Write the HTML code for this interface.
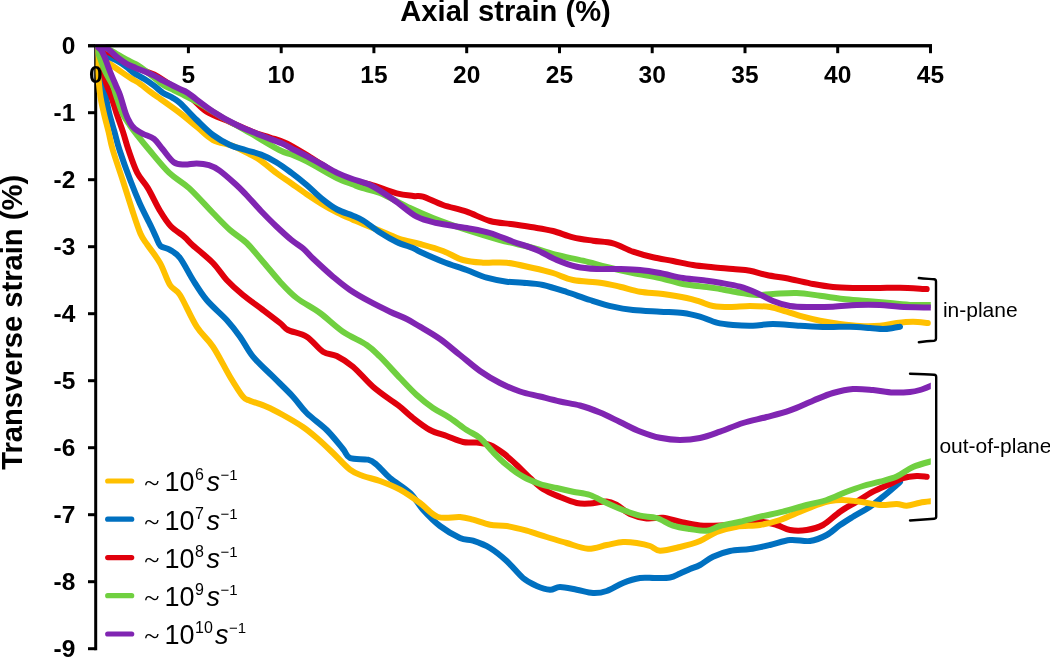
<!DOCTYPE html>
<html><head><meta charset="utf-8"><title>Strain chart</title>
<style>
html,body{margin:0;padding:0;background:#fff;}
body{width:1050px;height:657px;overflow:hidden;}
svg{display:block;}
text{font-family:"Liberation Sans",sans-serif;fill:#000;}
.b{font-weight:bold;}
.tk{font-weight:bold;font-size:24.5px;}
.lg{font-size:27px;}
.sup{font-size:16px;}
.crv{fill:none;stroke-width:6;stroke-linecap:round;stroke-linejoin:round;}
</style></head><body>
<svg width="1050" height="657" viewBox="0 0 1050 657">
<rect width="1050" height="657" fill="#fff"/>
<defs><clipPath id="cp"><rect x="95.5" y="44.2" width="835.3" height="617"/></clipPath></defs>

<text class="b" x="400.3" y="20.9" font-size="29.15">Axial strain (%)</text>
<text class="b" font-size="29.15" text-anchor="middle" transform="translate(21.9,322.3) rotate(-90)">Transverse strain (%)</text>
<g stroke="#000" stroke-width="3" fill="none" stroke-linecap="butt">
<path d="M88 45.7H932"/>
<path d="M95.7 44.2V650.2"/>
<path d="M188.4 45.7v7.5"/>
<path d="M281.2 45.7v7.5"/>
<path d="M373.9 45.7v7.5"/>
<path d="M466.7 45.7v7.5"/>
<path d="M559.5 45.7v7.5"/>
<path d="M652.2 45.7v7.5"/>
<path d="M745.0 45.7v7.5"/>
<path d="M837.7 45.7v7.5"/>
<path d="M930.5 45.7v7.5"/>
<path d="M88 112.7H95.7"/>
<path d="M88 179.7H95.7"/>
<path d="M88 246.7H95.7"/>
<path d="M88 313.7H95.7"/>
<path d="M88 380.7H95.7"/>
<path d="M88 447.7H95.7"/>
<path d="M88 514.7H95.7"/>
<path d="M88 581.7H95.7"/>
<path d="M88 648.7H95.7"/>
</g>
<g class="crv" clip-path="url(#cp)">
<path stroke="#FFC000" d="M95.7 45.7C96.6 47.1 99.3 51.5 101.0 54.0C102.7 56.5 104.0 59.0 106.0 61.0C108.0 63.0 110.2 64.1 112.9 66.0C115.6 67.9 119.0 70.3 122.0 72.4C125.0 74.5 128.0 76.5 131.1 78.4C134.2 80.3 137.2 81.8 140.3 83.9C143.4 86.0 146.4 88.9 149.4 91.2C152.4 93.5 153.5 94.0 158.6 97.6C163.7 101.2 173.7 108.2 180.0 113.0C186.3 117.8 191.2 122.2 196.7 126.7C202.2 131.2 206.9 136.8 213.0 140.0C219.1 143.2 226.8 143.6 233.0 146.0C239.2 148.4 245.6 152.2 250.3 154.6C255.0 157.0 256.7 157.6 261.0 160.7C265.3 163.8 271.1 169.1 276.2 172.9C281.3 176.7 286.4 179.9 291.5 183.5C296.6 187.1 301.6 190.8 306.7 194.2C311.8 197.6 316.9 201.0 322.0 204.1C327.1 207.2 332.1 209.9 337.2 212.5C342.3 215.1 348.1 217.5 352.4 219.4C356.7 221.3 357.3 221.7 363.0 224.0C368.7 226.3 380.5 231.0 386.7 233.5C392.9 236.0 394.4 237.2 400.0 239.0C405.6 240.8 412.8 242.0 420.0 244.0C427.2 246.0 435.8 248.3 443.0 251.0C450.2 253.7 456.3 258.1 463.0 260.0C469.7 261.9 475.7 262.2 483.0 262.7C490.3 263.1 498.4 261.8 506.7 262.7C515.0 263.6 525.3 266.3 533.0 268.0C540.7 269.7 546.3 271.0 553.0 273.0C559.7 275.0 565.2 278.4 573.0 280.0C580.8 281.6 592.2 281.6 600.0 282.7C607.8 283.8 613.3 285.2 620.0 286.7C626.7 288.2 632.8 290.5 640.0 291.7C647.2 292.9 655.2 292.9 663.0 294.0C670.8 295.1 680.5 296.7 686.7 298.0C692.9 299.3 695.6 300.4 700.0 301.7C704.4 303.0 708.0 305.1 713.0 306.0C718.0 306.9 723.8 307.0 730.0 307.0C736.2 307.0 743.3 306.0 750.0 306.0C756.7 306.0 763.9 306.1 770.0 307.0C776.1 307.9 781.2 310.1 786.7 311.7C792.2 313.3 797.5 315.2 803.0 316.7C808.5 318.2 813.8 319.5 820.0 320.7C826.2 321.9 833.3 323.1 840.0 324.0C846.7 324.9 853.3 325.7 860.0 326.0C866.7 326.3 873.9 326.2 880.0 325.7C886.1 325.2 891.2 323.7 896.7 323.0C902.2 322.3 907.8 321.7 913.0 321.7C918.2 321.7 925.5 322.8 928.0 323.0"/>
<path stroke="#0070C0" d="M95.7 45.7C96.2 48.1 98.0 55.1 99.0 60.0C100.0 64.9 100.9 69.2 102.0 75.0C103.1 80.8 104.3 88.6 105.5 95.0C106.7 101.4 107.7 107.2 109.2 113.3C110.7 119.4 112.7 125.5 114.4 131.6C116.1 137.7 116.8 141.8 119.5 150.0C122.2 158.2 127.0 171.6 130.4 180.5C133.8 189.4 136.4 195.8 139.8 203.4C143.2 211.0 148.3 220.6 151.0 226.2C153.7 231.8 154.4 233.7 156.0 237.0C157.6 240.3 158.2 243.9 160.5 246.0C162.8 248.1 166.3 247.6 169.6 249.6C172.8 251.6 176.1 252.9 180.0 258.0C183.9 263.1 188.6 273.0 193.0 280.0C197.4 287.0 201.1 293.3 206.7 300.0C212.3 306.7 221.1 313.9 226.7 320.0C232.2 326.1 235.6 330.6 240.0 336.7C244.4 342.8 247.5 350.0 253.0 356.7C258.5 363.4 266.3 370.0 273.0 376.7C279.7 383.4 287.4 390.6 293.0 396.7C298.6 402.8 301.1 407.4 306.7 413.0C312.3 418.6 320.6 424.0 326.7 430.0C332.8 436.0 339.1 444.3 343.0 449.0C346.9 453.7 345.8 456.2 350.0 458.0C354.2 459.8 363.6 458.6 368.0 459.7C372.4 460.8 373.0 461.6 376.7 464.7C380.4 467.8 384.4 473.3 390.0 478.0C395.6 482.7 404.5 487.7 410.0 493.0C415.5 498.3 418.0 504.2 423.0 509.7C428.0 515.2 433.8 521.3 440.0 526.0C446.2 530.7 454.5 535.5 460.0 538.0C465.5 540.5 468.0 539.0 473.0 540.7C478.0 542.4 484.4 544.6 490.0 548.0C495.6 551.4 501.2 556.0 506.7 561.0C512.2 566.0 518.0 573.8 523.0 578.0C528.0 582.2 532.2 584.0 536.7 586.0C541.2 588.0 546.1 589.5 550.0 589.7C553.9 589.9 555.5 587.0 560.0 587.0C564.5 587.0 571.2 588.7 576.7 589.7C582.2 590.7 588.0 592.8 593.0 593.0C598.0 593.2 601.7 592.7 606.7 591.0C611.7 589.3 617.5 585.2 623.0 583.0C628.5 580.8 634.7 578.8 640.0 578.0C645.3 577.2 650.0 578.1 655.0 578.0C660.0 577.9 665.8 578.2 670.0 577.5C674.2 576.8 676.7 574.9 680.0 573.5C683.3 572.1 686.7 570.4 690.0 569.0C693.3 567.6 696.2 567.0 700.0 565.0C703.8 563.0 708.0 559.0 713.0 556.7C718.0 554.4 723.8 552.3 730.0 551.0C736.2 549.7 743.3 550.0 750.0 549.0C756.7 548.0 763.3 546.5 770.0 545.0C776.7 543.5 783.3 540.7 790.0 540.0C796.7 539.3 803.9 541.8 810.0 541.0C816.1 540.2 821.7 537.7 826.7 535.0C831.7 532.3 835.6 528.0 840.0 525.0C844.4 522.0 848.0 519.8 853.0 516.7C858.0 513.7 865.0 510.0 870.0 506.7C875.0 503.4 878.5 500.3 883.0 496.7C887.5 493.1 893.9 487.4 896.7 485.0C899.5 482.6 899.5 482.5 900.0 482.0"/>
<path stroke="#0070C0" d="M95.7 45.7C96.8 46.8 99.9 50.2 102.0 52.0C104.1 53.8 105.7 55.0 108.3 56.5C110.9 58.0 114.5 59.3 117.4 61.0C120.4 62.7 123.2 64.5 126.0 66.5C128.8 68.5 130.8 70.8 133.9 72.9C137.0 75.0 141.5 77.2 144.8 79.3C148.2 81.4 150.9 83.4 154.0 85.7C157.1 88.0 160.0 91.0 163.1 93.0C166.2 95.0 169.5 95.9 172.3 97.6C175.1 99.3 175.9 99.3 180.0 103.0C184.1 106.7 191.2 114.7 196.7 120.0C202.2 125.3 207.4 130.8 213.0 135.0C218.6 139.2 224.6 142.5 230.0 145.0C235.4 147.5 240.5 148.4 245.7 150.0C250.9 151.6 255.9 152.6 261.0 154.6C266.1 156.6 271.1 159.1 276.2 162.2C281.3 165.2 286.4 169.1 291.5 172.9C296.6 176.7 301.6 180.7 306.7 185.0C311.8 189.3 316.9 194.7 322.0 198.8C327.1 202.9 332.1 206.7 337.2 209.5C342.3 212.3 348.1 213.7 352.4 215.5C356.7 217.3 358.4 217.7 363.0 220.5C367.6 223.3 374.4 228.9 380.0 232.5C385.6 236.1 391.2 239.4 396.7 242.0C402.2 244.6 409.1 246.4 413.0 248.0C416.9 249.6 415.0 249.4 420.0 251.7C425.0 254.0 435.2 258.6 443.0 261.7C450.8 264.8 459.4 267.3 466.7 270.0C474.0 272.7 480.0 275.8 486.7 277.7C493.4 279.6 500.6 280.9 506.7 281.7C512.8 282.5 517.0 282.1 523.0 282.7C529.0 283.2 535.7 283.4 543.0 285.0C550.3 286.6 558.9 289.5 566.7 292.0C574.5 294.5 582.3 297.6 590.0 300.0C597.7 302.4 605.8 305.0 613.0 306.7C620.2 308.4 625.2 309.2 633.0 310.0C640.8 310.8 651.7 311.2 660.0 311.7C668.3 312.2 676.3 312.2 683.0 313.0C689.7 313.8 694.4 315.1 700.0 316.7C705.6 318.3 711.2 321.3 716.7 322.7C722.2 324.1 727.0 324.5 733.0 325.0C739.0 325.5 746.3 325.9 753.0 325.7C759.7 325.5 765.2 324.0 773.0 324.0C780.8 324.0 791.0 325.2 800.0 325.7C809.0 326.2 818.4 326.8 826.7 327.0C835.0 327.2 842.8 326.5 850.0 326.7C857.2 326.9 864.5 327.6 870.0 328.0C875.5 328.4 879.2 329.0 883.0 329.0C886.8 329.0 890.2 328.4 893.0 328.0C895.8 327.6 898.8 326.9 900.0 326.7"/>
<path stroke="#E0000C" d="M95.7 45.7C96.7 49.1 99.6 59.3 101.5 66.0C103.4 72.7 105.4 80.9 106.9 85.7C108.5 90.5 109.2 90.4 110.8 95.0C112.4 99.6 114.5 107.2 116.5 113.3C118.5 119.4 120.9 125.5 122.9 131.6C124.9 137.7 126.1 143.1 128.5 150.0C130.9 156.9 134.1 166.6 137.3 172.9C140.5 179.2 144.1 181.8 147.9 188.1C151.7 194.4 156.3 204.7 160.1 211.0C163.9 217.3 166.7 221.9 170.8 226.2C174.9 230.5 180.8 233.7 184.5 236.9C188.2 240.1 188.2 241.2 193.0 245.5C197.8 249.8 207.4 257.2 213.0 263.0C218.6 268.8 221.7 274.7 226.7 280.0C231.7 285.3 236.9 290.0 243.0 295.0C249.1 300.0 256.8 305.3 263.0 310.0C269.2 314.7 275.8 319.7 280.0 323.0C284.2 326.3 283.6 327.7 288.0 330.0C292.4 332.3 300.9 333.1 306.7 336.7C312.5 340.3 318.0 348.5 323.0 351.7C328.0 354.9 331.7 353.5 336.7 356.0C341.7 358.5 346.9 361.6 353.0 366.7C359.1 371.8 366.3 380.9 373.0 386.7C379.7 392.5 388.5 398.4 393.0 401.7C397.5 405.0 396.7 404.0 400.0 406.7C403.3 409.4 408.0 414.1 413.0 418.0C418.0 421.9 424.4 427.0 430.0 430.0C435.6 433.0 441.2 434.0 446.7 436.0C452.2 438.0 458.0 440.9 463.0 442.0C468.0 443.1 472.2 442.0 476.7 442.5C481.2 443.0 485.6 443.2 490.0 445.0C494.4 446.8 498.6 449.7 503.0 453.0C507.4 456.3 512.2 460.8 516.7 465.0C521.2 469.2 525.6 474.0 530.0 478.0C534.4 482.0 538.0 485.8 543.0 489.0C548.0 492.2 554.4 494.7 560.0 497.0C565.6 499.3 571.7 501.9 576.7 503.0C581.7 504.1 585.0 503.8 590.0 503.5C595.0 503.2 602.2 501.2 606.7 501.5C611.2 501.8 612.8 502.9 616.7 505.0C620.6 507.1 625.0 511.8 630.0 514.0C635.0 516.2 641.2 517.9 646.7 518.5C652.2 519.1 657.5 517.2 663.0 517.7C668.5 518.2 673.8 520.4 680.0 521.7C686.2 523.0 693.3 524.9 700.0 525.5C706.7 526.1 713.3 525.8 720.0 525.5C726.7 525.2 733.3 524.6 740.0 524.0C746.7 523.4 753.9 521.5 760.0 521.7C766.1 521.9 771.7 523.6 776.7 525.0C781.7 526.4 785.0 529.2 790.0 530.0C795.0 530.8 801.2 530.8 806.7 530.0C812.2 529.2 817.5 528.0 823.0 525.0C828.5 522.0 834.4 515.6 840.0 511.7C845.6 507.8 851.2 505.0 856.7 501.7C862.2 498.4 867.5 494.6 873.0 491.7C878.5 488.8 885.0 486.3 890.0 484.0C895.0 481.7 898.5 479.3 903.0 478.0C907.5 476.7 912.8 476.2 916.7 476.0C920.7 475.8 925.0 476.6 926.7 476.7"/>
<path stroke="#E0000C" d="M95.7 45.7C98.1 46.9 104.3 49.8 110.0 53.0C115.7 56.2 122.7 61.4 130.0 65.0C137.3 68.6 147.3 71.2 154.0 74.5C160.7 77.8 164.0 80.8 170.0 84.5C176.0 88.2 183.9 92.5 190.0 97.0C196.1 101.5 200.0 107.5 206.7 111.7C213.4 115.9 222.3 118.6 230.0 122.0C237.7 125.4 246.3 129.4 253.0 132.0C259.7 134.6 264.4 135.6 270.0 137.5C275.6 139.4 280.0 140.2 286.7 143.5C293.4 146.8 301.9 152.2 310.0 157.0C318.1 161.8 328.0 168.6 335.0 172.5C342.0 176.4 346.2 178.5 352.0 180.5C357.8 182.5 362.6 182.4 370.0 184.5C377.4 186.6 389.5 191.4 396.7 193.3C403.9 195.2 408.9 195.4 413.3 196.0C417.7 196.6 418.1 195.2 423.0 196.7C427.9 198.2 435.7 202.5 443.0 205.0C450.3 207.5 458.9 209.0 466.7 211.7C474.5 214.4 482.3 218.9 490.0 221.0C497.7 223.1 505.8 223.2 513.0 224.3C520.2 225.4 526.3 226.2 533.0 227.3C539.7 228.4 546.3 229.3 553.0 231.0C559.7 232.7 566.3 235.7 573.0 237.3C579.7 238.9 586.3 239.7 593.0 240.7C599.7 241.7 606.3 241.5 613.0 243.3C619.7 245.1 626.3 249.4 633.0 251.7C639.7 254.0 646.3 255.8 653.0 257.3C659.7 258.9 666.3 259.7 673.0 261.0C679.7 262.3 686.3 263.9 693.0 265.0C699.7 266.1 706.3 266.6 713.0 267.3C719.7 268.0 726.8 268.4 733.0 269.0C739.2 269.6 744.4 269.7 750.0 270.7C755.6 271.7 760.0 273.6 766.7 275.0C773.4 276.4 782.3 277.5 790.0 279.0C797.7 280.5 805.8 282.7 813.0 284.0C820.2 285.3 825.7 286.3 833.0 287.0C840.3 287.7 848.9 287.8 856.7 288.0C864.5 288.2 872.8 288.1 880.0 288.0C887.2 287.9 892.2 287.5 900.0 287.7C907.8 287.9 922.2 288.8 926.7 289.0"/>
<path stroke="#FFC000" d="M95.7 45.7C96.0 49.8 97.0 61.8 97.8 70.0C98.5 78.2 99.2 87.8 100.2 95.0C101.2 102.2 102.5 107.2 103.9 113.3C105.3 119.4 107.0 125.5 108.5 131.6C110.0 137.7 110.4 141.8 112.8 150.0C115.2 158.2 119.5 170.3 122.8 180.5C126.1 190.7 129.6 202.1 132.5 211.0C135.4 219.9 138.0 228.1 140.5 233.8C143.0 239.5 144.2 240.1 147.5 245.0C150.8 249.9 156.2 256.3 160.0 263.0C163.8 269.7 166.7 279.7 170.0 285.0C173.3 290.3 175.6 288.1 180.0 295.0C184.4 301.9 191.2 318.1 196.7 326.7C202.2 335.3 207.4 338.4 213.0 346.7C218.6 355.0 225.0 368.4 230.0 376.7C235.0 385.0 239.7 392.7 243.0 396.7C246.3 400.7 246.1 399.0 250.0 400.7C253.9 402.4 261.2 404.3 266.7 406.7C272.2 409.1 276.9 411.6 283.0 415.0C289.1 418.4 297.2 423.0 303.0 427.0C308.8 431.0 313.0 434.7 318.0 439.0C323.0 443.3 327.7 447.9 333.0 453.0C338.3 458.1 345.0 465.9 350.0 469.7C355.0 473.5 358.0 474.1 363.0 476.0C368.0 477.9 373.8 478.7 380.0 481.0C386.2 483.3 393.3 486.0 400.0 489.7C406.7 493.4 413.7 498.4 420.0 503.0C426.3 507.6 431.3 514.7 438.0 517.0C444.7 519.3 454.2 516.5 460.0 517.0C465.8 517.5 468.0 518.4 473.0 519.7C478.0 521.0 484.4 523.7 490.0 524.7C495.6 525.8 500.6 525.0 506.7 526.0C512.8 527.0 520.0 528.9 526.7 530.7C533.4 532.5 540.0 535.0 546.7 537.0C553.4 539.0 559.8 541.0 566.7 543.0C573.6 545.0 581.3 548.4 588.0 548.7C594.7 549.0 600.9 546.1 606.7 545.0C612.5 543.9 618.0 542.3 623.0 542.0C628.0 541.7 632.2 542.3 636.7 543.0C641.2 543.7 646.1 544.7 650.0 546.0C653.9 547.3 655.0 550.5 660.0 550.7C665.0 550.9 673.3 548.6 680.0 547.0C686.7 545.4 693.9 543.5 700.0 541.0C706.1 538.5 710.6 534.4 716.7 532.0C722.8 529.6 729.5 527.9 736.7 526.7C743.9 525.5 752.8 526.1 760.0 525.0C767.2 523.9 773.3 522.2 780.0 520.0C786.7 517.8 793.9 514.2 800.0 511.7C806.1 509.2 811.7 506.8 816.7 505.0C821.7 503.2 825.6 501.8 830.0 501.0C834.4 500.2 838.0 499.9 843.0 500.0C848.0 500.1 853.8 500.9 860.0 501.7C866.2 502.5 873.9 504.6 880.0 505.0C886.1 505.4 892.2 503.9 896.7 504.0C901.2 504.1 902.8 505.9 906.7 505.7C910.6 505.5 915.5 503.5 920.0 502.7C924.5 501.9 931.7 501.3 934.0 501.0"/>
<path stroke="#70D040" d="M95.7 45.7C97.2 49.8 101.7 63.3 104.6 70.0C107.5 76.7 111.0 81.5 112.9 85.7C114.8 89.9 114.4 90.4 116.0 95.0C117.6 99.6 120.1 108.2 122.4 113.3C124.7 118.4 127.4 121.7 130.0 125.5C132.6 129.3 134.8 132.0 138.0 136.1C141.2 140.2 144.1 143.9 149.3 150.0C154.5 156.1 162.7 166.6 169.3 172.9C175.9 179.2 181.8 181.4 189.1 188.1C196.4 194.8 206.2 206.0 213.0 213.0C219.8 220.0 224.4 225.0 230.0 230.0C235.6 235.0 241.2 237.7 246.7 243.0C252.2 248.3 257.4 255.2 263.0 261.7C268.6 268.1 274.4 275.6 280.0 281.7C285.6 287.8 290.0 292.8 296.7 298.0C303.4 303.2 312.3 307.4 320.0 313.0C327.7 318.6 335.2 326.4 343.0 331.7C350.8 337.0 360.5 340.8 366.7 345.0C372.9 349.2 374.4 351.2 380.0 356.7C385.6 362.2 393.9 371.6 400.0 378.0C406.1 384.4 411.2 390.0 416.7 395.0C422.2 400.0 427.4 404.2 433.0 408.0C438.6 411.8 444.4 414.3 450.0 418.0C455.6 421.7 461.7 426.7 466.7 430.0C471.7 433.3 475.6 434.3 480.0 438.0C484.4 441.7 488.6 447.5 493.0 452.0C497.4 456.5 501.7 460.9 506.7 465.0C511.7 469.1 517.5 473.5 523.0 476.7C528.5 479.9 534.4 482.1 540.0 484.0C545.6 485.9 551.2 486.7 556.7 488.0C562.2 489.3 567.5 490.5 573.0 491.7C578.5 492.9 584.4 493.1 590.0 495.0C595.6 496.9 601.2 500.5 606.7 503.0C612.2 505.5 617.5 507.9 623.0 510.0C628.5 512.1 634.4 514.4 640.0 515.7C645.6 517.0 651.2 516.3 656.7 518.0C662.2 519.7 667.5 523.9 673.0 525.7C678.5 527.5 684.4 528.2 690.0 529.0C695.6 529.8 701.7 531.2 706.7 530.7C711.7 530.2 714.5 527.5 720.0 526.0C725.5 524.5 733.3 523.2 740.0 521.7C746.7 520.2 752.8 518.4 760.0 516.7C767.2 515.0 775.2 513.6 783.0 511.7C790.8 509.8 799.4 506.9 806.7 505.0C814.0 503.1 820.0 502.2 826.7 500.0C833.4 497.8 840.7 494.0 846.7 491.7C852.8 489.4 857.5 487.7 863.0 486.0C868.5 484.3 874.4 483.3 880.0 481.7C885.6 480.1 891.2 478.9 896.7 476.5C902.2 474.1 906.8 469.7 913.0 467.0C919.2 464.3 930.5 461.6 934.0 460.5"/>
<path stroke="#70D040" d="M95.7 45.7C97.4 46.1 102.6 46.7 106.0 48.0C109.4 49.3 112.6 51.5 116.0 53.5C119.4 55.5 123.3 57.9 126.6 59.7C129.9 61.5 132.3 62.2 135.7 64.2C139.1 66.2 142.4 68.6 147.0 72.0C151.6 75.4 158.9 81.9 163.1 84.8C167.3 87.7 169.2 87.9 172.3 89.4C175.4 90.9 177.3 91.8 181.4 93.9C185.5 96.0 190.6 98.3 197.0 102.0C203.4 105.7 211.2 110.8 220.0 116.0C228.8 121.2 240.1 127.3 250.0 133.0C259.9 138.7 272.4 146.4 279.3 150.0C286.2 153.6 286.9 152.7 291.5 154.6C296.1 156.5 301.6 158.9 306.7 161.4C311.8 163.9 316.9 167.0 322.0 169.8C327.1 172.6 332.1 175.8 337.2 178.2C342.3 180.6 348.3 182.7 352.4 184.3C356.5 185.9 357.4 186.6 362.0 188.0C366.6 189.4 372.0 189.7 380.0 193.0C388.0 196.3 401.2 203.8 410.0 208.0C418.8 212.2 423.6 214.3 433.0 218.0C442.4 221.7 455.5 226.3 466.7 230.0C477.9 233.7 488.9 237.0 500.0 240.0C511.1 243.0 523.5 245.5 533.0 248.0C542.5 250.5 548.4 252.9 556.7 255.0C565.0 257.1 574.7 258.7 583.0 260.7C591.3 262.7 598.4 264.9 606.7 267.0C615.0 269.1 624.1 271.2 633.0 273.0C641.9 274.8 651.7 276.2 660.0 278.0C668.3 279.8 675.2 282.5 683.0 284.0C690.8 285.5 700.5 286.2 706.7 287.0C712.9 287.8 714.5 288.1 720.0 289.0C725.5 289.9 733.9 291.7 740.0 292.7C746.1 293.7 751.2 294.8 756.7 295.0C762.2 295.2 766.3 294.3 773.0 294.0C779.7 293.7 788.9 292.7 796.7 293.0C804.5 293.3 812.3 294.7 820.0 295.7C827.7 296.7 835.2 298.1 843.0 299.0C850.8 299.9 858.9 300.3 866.7 301.0C874.5 301.7 882.3 302.3 890.0 303.0C897.7 303.7 905.7 304.7 913.0 305.0C920.3 305.3 930.5 305.0 934.0 305.0"/>
<path stroke="#8025B2" d="M95.7 45.7C96.6 46.4 99.5 48.0 101.0 50.0C102.5 52.0 103.6 54.7 105.0 58.0C106.4 61.3 107.6 65.4 109.4 70.0C111.2 74.6 114.2 81.5 116.0 85.7C117.8 89.9 118.4 90.4 120.0 95.0C121.6 99.6 124.0 108.7 125.6 113.3C127.2 117.9 128.3 119.8 129.8 122.4C131.3 125.0 132.6 126.9 134.8 128.8C137.0 130.7 139.8 132.1 143.0 133.8C146.2 135.5 150.8 136.4 154.0 138.9C157.2 141.4 159.2 145.1 162.5 149.0C165.8 152.9 170.1 159.6 173.8 162.2C177.5 164.8 180.7 164.3 184.5 164.5C188.3 164.7 192.6 163.3 196.7 163.4C200.8 163.5 205.1 164.0 208.9 165.2C212.7 166.4 215.3 167.5 219.6 170.6C223.9 173.7 230.5 179.6 234.8 183.5C239.2 187.4 241.3 189.6 245.7 194.2C250.1 198.8 255.9 205.7 261.0 211.0C266.1 216.3 271.1 221.4 276.2 226.2C281.3 231.0 286.9 236.2 291.5 240.0C296.1 243.8 300.1 245.9 303.7 249.0C307.3 252.1 308.1 253.9 313.0 258.5C317.9 263.1 326.8 271.4 333.0 276.7C339.2 281.9 343.8 285.8 350.0 290.0C356.2 294.2 363.3 298.1 370.0 301.7C376.7 305.3 383.9 308.8 390.0 311.7C396.1 314.6 401.7 316.5 406.7 319.0C411.7 321.5 414.4 323.4 420.0 326.7C425.6 330.0 433.3 334.3 440.0 339.0C446.7 343.7 453.3 349.7 460.0 355.0C466.7 360.3 473.3 366.3 480.0 371.0C486.7 375.7 493.3 379.6 500.0 383.0C506.7 386.4 513.3 389.2 520.0 391.5C526.7 393.8 533.3 394.8 540.0 396.5C546.7 398.2 553.3 400.0 560.0 401.5C566.7 403.0 573.3 403.7 580.0 405.5C586.7 407.3 593.3 409.8 600.0 412.5C606.7 415.2 613.3 418.8 620.0 422.0C626.7 425.2 633.3 428.9 640.0 431.5C646.7 434.1 653.3 436.4 660.0 437.8C666.7 439.2 673.3 440.0 680.0 440.0C686.7 440.0 693.3 439.4 700.0 438.0C706.7 436.6 712.8 434.2 720.0 431.7C727.2 429.2 735.2 425.4 743.0 423.0C750.8 420.6 758.9 419.1 766.7 417.0C774.5 414.9 782.3 413.0 790.0 410.3C797.7 407.6 805.8 403.6 813.0 400.7C820.2 397.8 826.3 394.9 833.0 393.0C839.7 391.1 846.3 389.5 853.0 389.0C859.7 388.5 866.3 389.4 873.0 390.0C879.7 390.6 886.8 392.2 893.0 392.5C899.2 392.8 905.5 392.4 910.0 392.0C914.5 391.6 916.0 391.2 920.0 390.0C924.0 388.8 931.7 385.4 934.0 384.5"/>
<path stroke="#8025B2" d="M95.7 45.7C96.8 45.8 99.9 45.9 102.0 46.5C104.1 47.1 105.7 47.3 108.3 49.1C110.9 50.9 114.4 55.0 117.4 57.4C120.5 59.8 123.5 62.0 126.6 63.8C129.6 65.5 132.7 66.6 135.7 67.9C138.7 69.2 141.8 70.2 144.8 71.5C147.9 72.8 150.9 74.1 154.0 75.6C157.1 77.1 160.0 79.1 163.1 80.7C166.2 82.3 169.2 83.7 172.3 85.2C175.4 86.7 178.7 88.5 181.4 89.8C184.1 91.1 183.0 89.6 188.3 93.3C193.6 97.0 205.2 106.4 213.3 111.7C221.4 117.0 228.9 121.1 236.7 125.0C244.5 128.9 252.5 131.9 260.0 135.0C267.5 138.1 275.9 140.8 281.7 143.3C287.4 145.8 290.3 147.9 294.5 150.0C298.7 152.1 302.1 153.7 306.7 156.1C311.3 158.5 316.9 161.7 322.0 164.5C327.1 167.3 332.1 170.5 337.2 172.9C342.3 175.3 348.3 177.5 352.4 179.0C356.5 180.5 358.5 180.7 362.0 182.0C365.5 183.3 367.6 183.4 373.3 186.7C379.0 189.9 388.8 196.5 396.0 201.5C403.2 206.5 409.9 213.1 416.7 216.7C423.5 220.3 428.4 221.1 436.7 223.0C445.0 224.9 457.8 226.3 466.7 228.0C475.6 229.7 482.3 230.7 490.0 233.0C497.7 235.3 505.2 238.9 513.0 241.7C520.8 244.5 529.4 246.9 536.7 250.0C544.0 253.1 550.0 257.2 556.7 260.0C563.4 262.8 570.0 265.2 576.7 266.7C583.4 268.2 590.0 268.6 596.7 269.0C603.4 269.4 609.5 268.8 616.7 269.0C623.9 269.2 632.8 269.3 640.0 270.0C647.2 270.7 652.8 271.7 660.0 273.0C667.2 274.3 675.2 276.7 683.0 278.0C690.8 279.3 700.5 279.9 706.7 280.7C712.9 281.5 714.5 281.7 720.0 282.7C725.5 283.7 733.9 285.0 740.0 286.7C746.1 288.4 751.2 290.6 756.7 293.0C762.2 295.4 767.5 298.8 773.0 301.0C778.5 303.2 783.8 305.0 790.0 306.0C796.2 307.0 802.8 306.9 810.0 307.0C817.2 307.1 825.2 307.0 833.0 306.7C840.8 306.4 848.9 305.3 856.7 305.0C864.5 304.7 872.8 304.7 880.0 305.0C887.2 305.3 891.0 306.2 900.0 306.7C909.0 307.1 928.3 307.5 934.0 307.7"/>
</g>
<path d="M88 45.7H932" stroke="#000" stroke-width="3"/>
<g class="tk" text-anchor="middle">
<text x="95.7" y="83">0</text>
<text x="188.4" y="83">5</text>
<text x="281.2" y="83">10</text>
<text x="373.9" y="83">15</text>
<text x="466.7" y="83">20</text>
<text x="559.5" y="83">25</text>
<text x="652.2" y="83">30</text>
<text x="745.0" y="83">35</text>
<text x="837.7" y="83">40</text>
<text x="930.5" y="83">45</text>
</g>
<g class="tk" text-anchor="end">
<text x="75.3" y="53.9">0</text>
<text x="75.3" y="120.9">-1</text>
<text x="75.3" y="187.9">-2</text>
<text x="75.3" y="254.9">-3</text>
<text x="75.3" y="321.9">-4</text>
<text x="75.3" y="388.9">-5</text>
<text x="75.3" y="455.9">-6</text>
<text x="75.3" y="522.9">-7</text>
<text x="75.3" y="589.9">-8</text>
<text x="75.3" y="656.9">-9</text>
</g>
<g class="crv">
<path stroke="#FFC000" style="stroke-width:5.2" d="M107.7 481.0H131.7"/>
<path stroke="#0070C0" style="stroke-width:5.2" d="M107.7 519.2H131.7"/>
<path stroke="#E0000C" style="stroke-width:5.2" d="M107.7 557.6H131.7"/>
<path stroke="#70D040" style="stroke-width:5.2" d="M107.7 595.7H131.7"/>
<path stroke="#8025B2" style="stroke-width:5.2" d="M107.7 634.0H131.7"/>
</g>
<g class="lg">
<text x="144.2" y="492.4" style="font-family:'Liberation Serif',serif;font-size:28px">~</text>
<text x="164.5" y="491.4">10</text>
<text class="sup" x="195.0" y="480.4">6</text>
<text x="206.5" y="491.4" font-style="italic">s</text>
<text class="sup" x="220.5" y="480.4" style="font-size:15px">−1</text>
<text x="144.2" y="530.6" style="font-family:'Liberation Serif',serif;font-size:28px">~</text>
<text x="164.5" y="529.6">10</text>
<text class="sup" x="195.0" y="518.6">7</text>
<text x="206.5" y="529.6" font-style="italic">s</text>
<text class="sup" x="220.5" y="518.6" style="font-size:15px">−1</text>
<text x="144.2" y="569.0" style="font-family:'Liberation Serif',serif;font-size:28px">~</text>
<text x="164.5" y="568.0">10</text>
<text class="sup" x="195.0" y="557.0">8</text>
<text x="206.5" y="568.0" font-style="italic">s</text>
<text class="sup" x="220.5" y="557.0" style="font-size:15px">−1</text>
<text x="144.2" y="607.1" style="font-family:'Liberation Serif',serif;font-size:28px">~</text>
<text x="164.5" y="606.1">10</text>
<text class="sup" x="195.0" y="595.1">9</text>
<text x="206.5" y="606.1" font-style="italic">s</text>
<text class="sup" x="220.5" y="595.1" style="font-size:15px">−1</text>
<text x="144.2" y="645.4" style="font-family:'Liberation Serif',serif;font-size:28px">~</text>
<text x="164.5" y="644.4">10</text>
<text class="sup" x="195.0" y="633.4">10</text>
<text x="215.0" y="644.4" font-style="italic">s</text>
<text class="sup" x="229.0" y="633.4" style="font-size:15px">−1</text>
</g>
<g stroke="#000" stroke-width="2.4" fill="none" stroke-linejoin="round" stroke-linecap="round">
<path d="M918.8 278C925 278.6 931 279 934 279.3Q936 279.5 936 281.5V338.6Q936 340.6 934 340.8C930 341 925 341.4 918.8 342.2"/>
<path d="M910 373.7C920 374 928 374.3 934.2 374.7Q936.2 374.9 936.2 376.9V516.6Q936.2 518.6 934.2 518.7C928 519.1 920 519.7 910 520.5"/>
</g>
<text x="942.9" y="316.9" font-size="21">in-plane</text>
<text x="939.4" y="453.4" font-size="21">out-of-plane</text>
</svg></body></html>
